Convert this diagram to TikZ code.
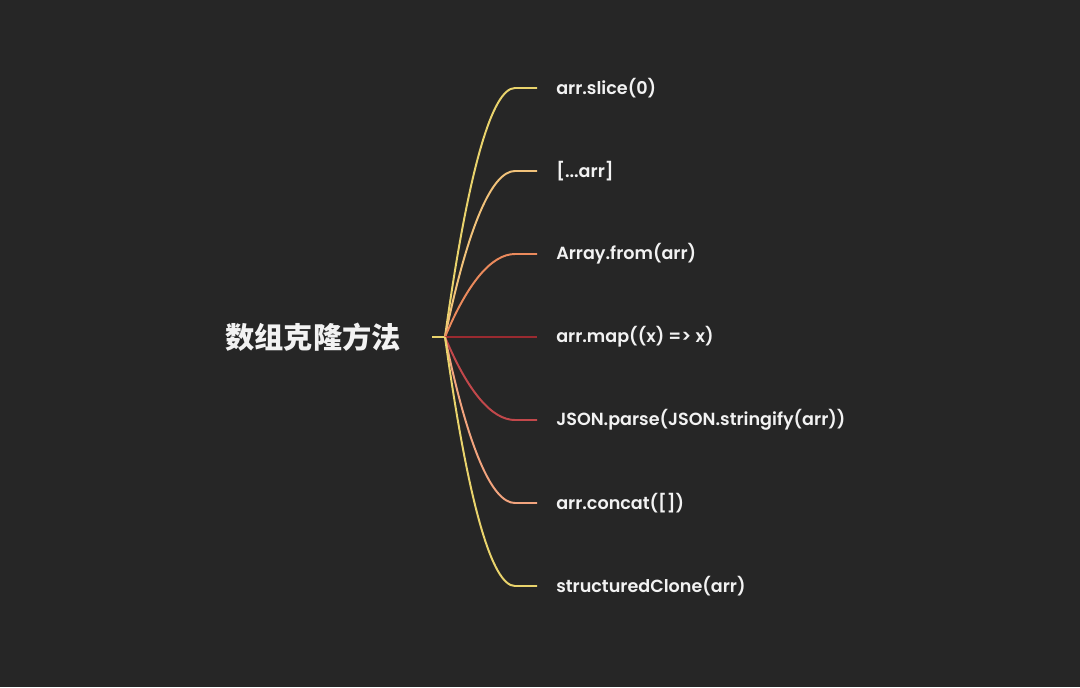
\documentclass[tikz,border=0pt]{standalone}
\usepackage{fontspec}
\setmainfont{Poppins}[UprightFont=* SemiBold,BoldFont=* Bold]
\newfontfamily\cjk{Noto Sans CJK SC}
\usepackage{tikz}
\usetikzlibrary{positioning}
\definecolor{bgdark}{HTML}{262626}
\definecolor{txtlight}{HTML}{F2F2F2}
\definecolor{cyellow}{HTML}{E9D36C}
\definecolor{capricot}{HTML}{F1C27A}
\definecolor{corange}{HTML}{EB8A5C}
\definecolor{cdarkred}{HTML}{9A2A30}
\definecolor{cred}{HTML}{C2484B}
\definecolor{csalmon}{HTML}{F2A47E}

\begin{document}
\begin{tikzpicture}[x=0.025cm,y=-0.025cm,
  leaf/.style={anchor=west,inner xsep=0.475cm,inner ysep=0pt,text=txtlight,font=\fontsize{12.5}{14}\selectfont},
  topic/.style={text=txtlight,inner sep=0pt,font=\cjk\fontsize{20.8}{24}\selectfont\bfseries},
  br/.style={draw=#1,line width=1.4pt}, br/.default=cyellow]
\fill[bgdark] (0,0) rectangle (1080,687);
\useasboundingbox (0,0) rectangle (1080,687);
\node[topic] (root) at (313,337) {数组克隆方法};
\coordinate (stub) at (432,337);
\coordinate (hub) at (445,337);
\node[leaf] (slice)  at (537,88)  {arr.slice(0)};
\node[leaf] (spread) at (537,171) {[...arr]};
\node[leaf] (from)   at (537,254) {Array.from(arr)};
\node[leaf] (map)    at (537,337) {arr.map((x) => x)};
\node[leaf] (json)   at (537,420) {JSON.parse(JSON.stringify(arr))};
\node[leaf] (concat) at (537,503) {arr.concat([])};
\node[leaf] (clone)  at (537,586) {structuredClone(arr)};
\draw[br] (stub)--(hub);
\draw[br] (hub) .. controls (468,171) and (492,88) .. (515,88) -- (slice.west);
\draw[br=capricot] (hub) .. controls (468,226) and (492,171) .. (515,171) -- (spread.west);
\draw[br=corange] (hub) .. controls (468,282) and (492,254) .. (515,254) -- (from.west);
\draw[br=cdarkred] (hub) -- (map.west);
\draw[br=cred] (hub) .. controls (468,392) and (492,420) .. (515,420) -- (json.west);
\draw[br=csalmon] (hub) .. controls (468,448) and (492,503) .. (515,503) -- (concat.west);
\draw[br] (hub) .. controls (468,503) and (492,586) .. (515,586) -- (clone.west);
\end{tikzpicture}
\end{document}
